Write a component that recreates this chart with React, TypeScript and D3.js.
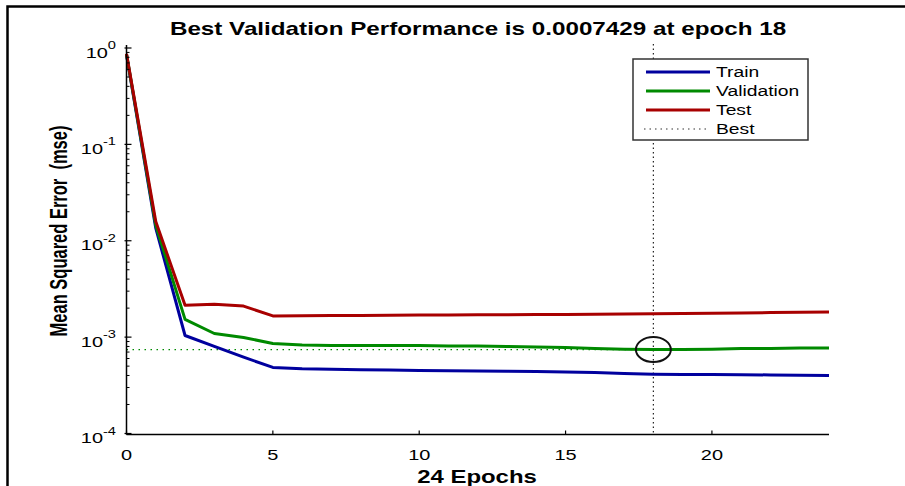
import React from "react";
import * as d3 from "d3";

const epochs = d3.range(0, 25);
const trainValues = [0.85, 0.0135, 0.00104, 0.0008, 0.00062, 0.000485, 0.00047, 0.000465, 0.00046, 0.000455, 0.00045, 0.000448, 0.000445, 0.000443, 0.00044, 0.000435, 0.00043, 0.00042, 0.000413, 0.00041, 0.000409, 0.000408, 0.000405, 0.000403, 0.0004];
const validationValues = [0.86, 0.0145, 0.00153, 0.00109, 0.00099, 0.00086, 0.00083, 0.00082, 0.00082, 0.00082, 0.00082, 0.00081, 0.00081, 0.0008, 0.00079, 0.00078, 0.00076, 0.00075, 0.0007429, 0.000745, 0.00075, 0.00076, 0.00076, 0.00077, 0.00077];
const testValues = [0.87, 0.0158, 0.00214, 0.00219, 0.0021, 0.00166, 0.00167, 0.00168, 0.00168, 0.00169, 0.0017, 0.0017, 0.00171, 0.00171, 0.00172, 0.00172, 0.00173, 0.00174, 0.00175, 0.00176, 0.00177, 0.00178, 0.0018, 0.00181, 0.00182];
const bestEpoch = 18;
const bestValue = 0.0007429;
const xTicks = [0, 5, 10, 15, 20];
const yDecades = [0, -1, -2, -3, -4];
const legendLabels = ["Train", "Validation", "Test", "Best"];
const seriesColors = ["#00009e", "#008a00", "#a80000"];

const SX = 1.33;
const FONT = "'Liberation Sans', Arial, sans-serif";

function SText({ x, y, anchor = "start", size, weight = "normal", rotate = 0, sx = SX, children }: any) {
  return (
    <text
      transform={`translate(${x},${y}) scale(${sx},1)${rotate ? ` rotate(${rotate})` : ""}`}
      textAnchor={anchor}
      fontSize={size}
      fontWeight={weight}
      fontFamily={FONT}
      fill="#000"
      style={{ whiteSpace: "pre" }}
    >
      {children}
    </text>
  );
}

export default function App() {
  const W = 905;
  const H = 486;
  const x = d3.scaleLinear().domain([0, 24]).range([126.5, 829]);
  const y = d3.scaleLog().domain([1e-4, 1]).range([433.5, 48]);
  const line = d3
    .line<number>()
    .x((_, i) => x(epochs[i]))
    .y((d) => y(d));

  const series = [trainValues, validationValues, testValues];
  const minor: number[] = [];
  for (let k = -4; k < 0; k++) for (let m = 2; m <= 9; m++) minor.push(m * Math.pow(10, k));

  const x0 = x(0);
  const yb = y(1e-4);
  const bx = x(bestEpoch);
  const by = y(bestValue);

  const lg = { x: 633, y: 59, w: 175, h: 81 };
  const legendRows = [72, 91, 110, 129];

  return (
    <svg width={W} height={H} style={{ position: "absolute", left: 0, top: 0, background: "#fff" }}>
      <rect x={0} y={0} width={W} height={H} fill="#fff" />
      {/* outer frame */}
      <path d={`M7.5,${H} V6.5 H${W}`} fill="none" stroke="#000" strokeWidth={2.5} />

      {/* title */}
      <SText x={478} y={35} anchor="middle" size={18} sx={1.345} weight="bold">
        Best Validation Performance is 0.0007429 at epoch 18
      </SText>

      {/* best markers */}
      <line x1={x0} x2={bx} y1={by} y2={by} stroke="#008a00" strokeWidth={1.2} strokeDasharray="1.5 4.5" />
      <line x1={bx} x2={bx} y1={44} y2={yb} stroke="#222" strokeWidth={1.2} strokeDasharray="1.5 3" />

      {/* series */}
      {series.map((s, i) => (
        <path key={i} d={line(s) || ""} fill="none" stroke={seriesColors[i]} strokeWidth={3} strokeLinejoin="round" />
      ))}

      <ellipse cx={bx} cy={by} rx={17.5} ry={12.5} fill="none" stroke="#111" strokeWidth={2} />

      {/* axes */}
      <line x1={x0} x2={x0} y1={45} y2={yb + 1} stroke="#000" strokeWidth={1.5} />
      <line x1={x0} x2={x(24)} y1={yb + 1} y2={yb + 1} stroke="#000" strokeWidth={1.5} />
      {xTicks.map((t) => (
        <g key={t}>
          <line x1={x(t)} x2={x(t)} y1={yb + 1} y2={yb - 3} stroke="#000" strokeWidth={1.2} />
          <SText x={x(t)} y={460} anchor="middle" size={15}>
            {String(t)}
          </SText>
        </g>
      ))}
      {minor.map((v, i) => (
        <line key={i} x1={x0} x2={x0 + 3} y1={y(v)} y2={y(v)} stroke="#000" strokeWidth={1} />
      ))}
      {yDecades.map((k) => {
        const yy = y(Math.pow(10, k));
        return (
          <g key={k}>
            <line x1={x0 - 2} x2={x0 + 5} y1={yy} y2={yy} stroke="#000" strokeWidth={1.2} />
            <text
              transform={`translate(116,${yy + 9.5}) scale(${SX},1)`}
              textAnchor="end"
              fontSize={15}
              fontFamily={FONT}
              fill="#000"
            >
              10
              <tspan fontSize={11} dy={-8.5}>
                {String(k)}
              </tspan>
            </text>
          </g>
        );
      })}

      {/* axis labels */}
      <SText x={477} y={483} anchor="middle" size={18} weight="bold">
        24 Epochs
      </SText>
      <SText x={67} y={231} anchor="middle" size={16.5} sx={1.45} weight="bold" rotate={-90}>
        {"Mean Squared Error  (mse)"}
      </SText>

      {/* legend */}
      <rect x={lg.x} y={lg.y} width={lg.w} height={lg.h} fill="#fff" stroke="#333" strokeWidth={1.5} />
      {legendLabels.map((lab, i) => (
        <g key={lab}>
          {i < 3 ? (
            <line x1={646} x2={710} y1={legendRows[i]} y2={legendRows[i]} stroke={seriesColors[i]} strokeWidth={3} />
          ) : (
            <line x1={644} x2={710} y1={legendRows[i]} y2={legendRows[i]} stroke="#333" strokeWidth={1.2} strokeDasharray="1.5 4" />
          )}
          <SText x={716} y={legendRows[i] + 5} size={14.5}>
            {lab}
          </SText>
        </g>
      ))}
    </svg>
  );
}
